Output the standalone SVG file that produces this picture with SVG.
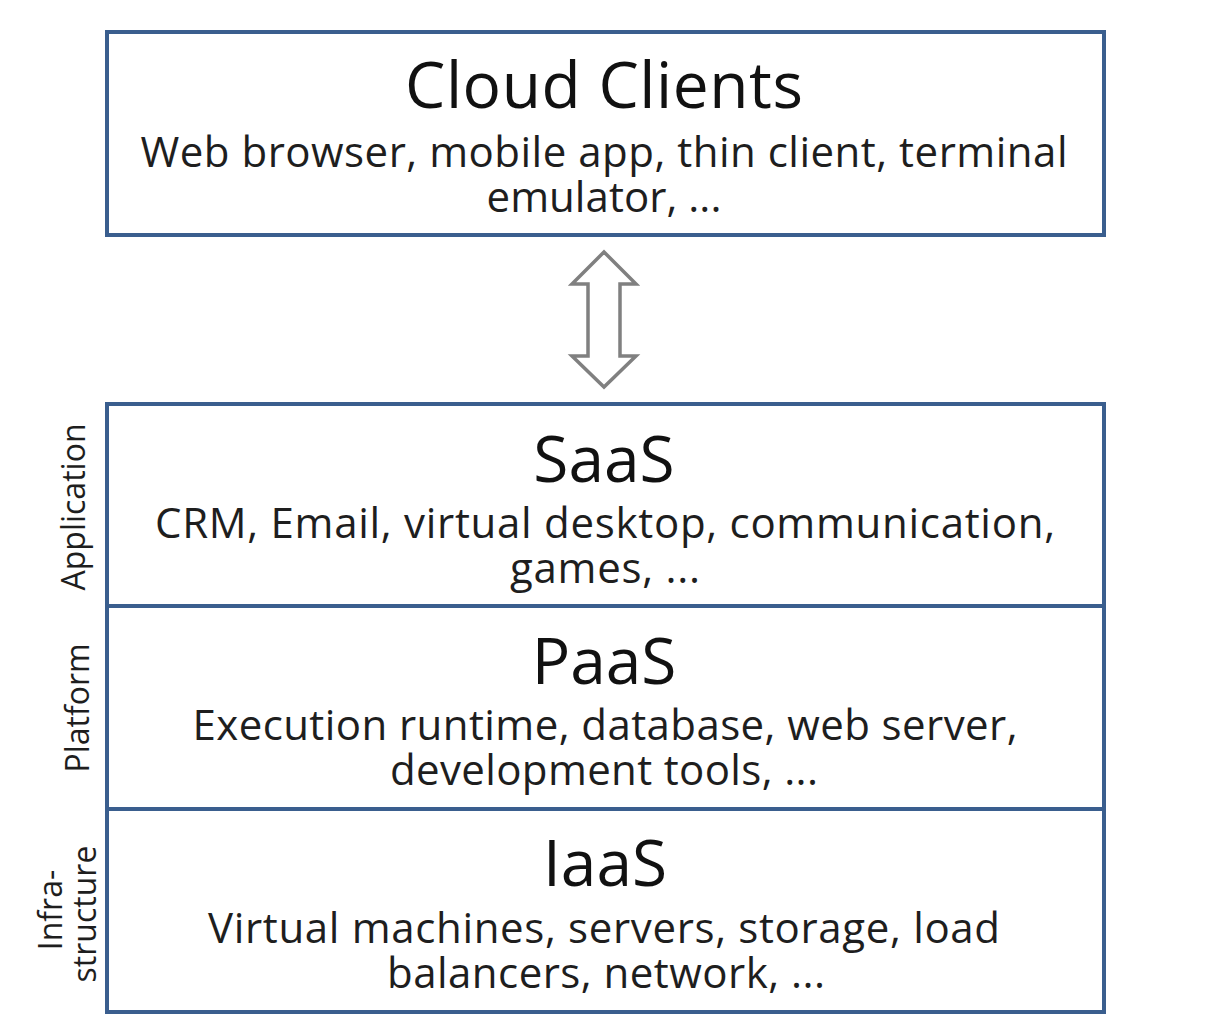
<svg xmlns="http://www.w3.org/2000/svg" width="1217" height="1033" viewBox="0 0 1217 1033">
<style>
.box{fill:#ffffff;stroke:#3a5e8e;stroke-width:4}
.title{font-family:"Open Sans","Liberation Sans",sans-serif;font-size:64px;fill:#111111;text-anchor:middle}
.sub{font-family:"Open Sans","Liberation Sans",sans-serif;font-size:42px;fill:#1e1e1e;text-anchor:middle}
.side{font-family:"Open Sans","Liberation Sans",sans-serif;font-size:32px;fill:#1e1e1e;text-anchor:middle}
.conn{fill:#ffffff;stroke:#808080;stroke-width:3.5;stroke-linejoin:miter}
</style>
<rect x="0" y="0" width="1217" height="1033" fill="#ffffff"/>
<g id="cloud-clients">
<rect class="box" x="107" y="32" width="997" height="203"/>
<text class="title" x="604" y="108" textLength="398">Cloud Clients</text>
<text class="sub" x="604" y="167" textLength="927">Web browser, mobile app, thin client, terminal</text>
<text class="sub" x="604" y="212" textLength="235">emulator, ...</text>
</g>
<g id="connectors">
<path class="conn" d="M604,252 L636,284 L620,284 L620,356 L636,356 L604,387 L572,356 L588,356 L588,284 L572,284 Z"/>
</g>
<g id="saas">
<rect class="box" x="107" y="404" width="997" height="202"/>
<text class="title" x="604" y="482">SaaS</text>
<text class="sub" x="605" y="538" textLength="900">CRM, Email, virtual desktop, communication,</text>
<text class="sub" x="605" y="583" textLength="190">games, ...</text>
</g>
<g id="paas">
<rect class="box" x="107" y="606" width="997" height="203"/>
<text class="title" x="604" y="684">PaaS</text>
<text class="sub" x="605" y="740" textLength="825">Execution runtime, database, web server,</text>
<text class="sub" x="604" y="785" textLength="428">development tools, ...</text>
</g>
<g id="iaas">
<rect class="box" x="107" y="809" width="997" height="203"/>
<text class="title" x="605" y="886">IaaS</text>
<text class="sub" x="604" y="943" textLength="792">Virtual machines, servers, storage, load</text>
<text class="sub" x="606" y="988" textLength="438">balancers, network, ...</text>
</g>
<g id="label-application">
<text class="side" transform="translate(85,507) rotate(-90)">Application</text>
</g>
<g id="label-platform">
<text class="side" transform="translate(89,708) rotate(-90)">Platform</text>
</g>
<g id="label-infrastructure">
<text class="side" transform="translate(62,910) rotate(-90)">Infra-</text>
<text class="side" transform="translate(96,914) rotate(-90)">structure</text>
</g>
</svg>
